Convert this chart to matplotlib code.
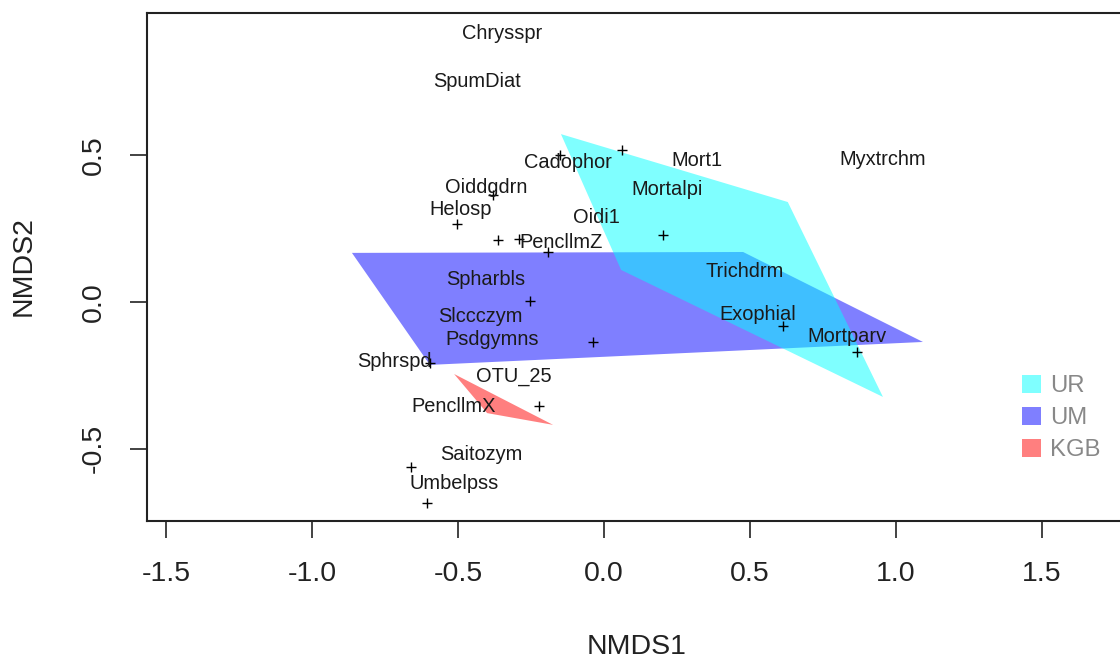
import matplotlib
matplotlib.use("Agg")
import matplotlib.pyplot as plt
from matplotlib.patches import Polygon, Patch

plt.rcParams['font.family'] = ['Liberation Sans', 'DejaVu Sans']

# Hull vertices (NMDS1, NMDS2) per group
groups = ["UR", "UM", "KGB"]
group_colors = {"UR": "#00FFFF", "UM": "#0000FF", "KGB": "#FF0000"}
hull_x = {
    "UR": [-0.147, 0.630, 0.956, 0.059],
    "UM": [-0.863, 0.477, 1.093, -0.596],
    "KGB": [-0.513, -0.400, -0.174],
}
hull_y = {
    "UR": [0.570, 0.339, -0.324, 0.108],
    "UM": [0.166, 0.169, -0.137, -0.215],
    "KGB": [-0.246, -0.379, -0.419],
}

# Species labels
species = ["Chrysspr", "SpumDiat", "Cadophor", "Mort1", "Myxtrchm", "Oiddgdrn",
           "Mortalpi", "Helosp", "Oidi1", "PencllmZ", "Trichdrm", "Spharbls",
           "Exophial", "Slccczym", "Mortparv", "Psdgymns", "Sphrspd", "OTU_25",
           "PencllmX", "Saitozym", "Umbelpss"]
species_x = [-0.349, -0.435, -0.123, 0.319, 0.956, -0.404, 0.216, -0.490, -0.024,
             -0.147, 0.483, -0.404, 0.528, -0.424, 0.832, -0.383, -0.716, -0.308,
             -0.514, -0.421, -0.514]
species_y = [0.911, 0.750, 0.472, 0.479, 0.485, 0.390, 0.380, 0.312, 0.285,
             0.200, 0.101, 0.077, -0.045, -0.052, -0.120, -0.130, -0.202, -0.253,
             -0.358, -0.521, -0.620]

# Unlabelled points (+)
pts_x = [-0.150, 0.062, -0.380, -0.503, -0.363, -0.291, -0.191, 0.202, -0.253,
         -0.037, -0.596, -0.222, -0.660, -0.605, 0.613, 0.867]
pts_y = [0.499, 0.516, 0.363, 0.264, 0.210, 0.213, 0.169, 0.227, 0.002,
         -0.137, -0.208, -0.355, -0.562, -0.685, -0.083, -0.171]

xticks = [-1.5, -1.0, -0.5, 0.0, 0.5, 1.0, 1.5]
yticks = [-0.5, 0.0, 0.5]

W, H = 1120, 660
fig = plt.figure(figsize=(W / 100, H / 100), dpi=100)
left, right, top, bottom = 147.3, 1127, 12.7, 520.7
ax = fig.add_axes([left / W, 1 - bottom / H, (right - left) / W, (bottom - top) / H])
ax.set_xlim(-1.564, 1.792)
ax.set_ylim(-0.745, 0.983)

for g in ["UM", "UR", "KGB"]:
    poly = Polygon(list(zip(hull_x[g], hull_y[g])), closed=True,
                   facecolor=group_colors[g], alpha=0.5, edgecolor='none', zorder=1)
    ax.add_patch(poly)

ax.plot(pts_x, pts_y, linestyle='none', marker='+', markersize=7,
        markeredgewidth=1.0, color='black', zorder=3)

for s, x, y in zip(species, species_x, species_y):
    ax.text(x, y, s, ha='center', va='center', fontsize=14.4, color='#1a1a1a', zorder=4)

ax.set_xticks(xticks)
ax.set_xticklabels([f"{t:.1f}" for t in xticks])
ax.set_yticks(yticks)
ax.set_yticklabels([f"{t:.1f}" for t in yticks], rotation=90, va='center')
ax.tick_params(direction='out', length=12.2, width=1.2, labelsize=20.5, pad=17,
               colors='#222222')
for sp in ['left', 'top', 'bottom']:
    ax.spines[sp].set_linewidth(1.5)
    ax.spines[sp].set_color('#222222')
ax.spines['right'].set_visible(False)

fig.text(637 / W, 1 - 647 / H, "NMDS1", ha='center', va='center', fontsize=20.5, color='#222222')
fig.text(24 / W, 1 - 266 / H, "NMDS2", ha='center', va='center', rotation=90, fontsize=20.5, color='#222222')

handles = [Patch(facecolor=group_colors[g], alpha=0.5, edgecolor='none') for g in groups]
leg = ax.legend(handles, groups, loc='upper left',
                bbox_to_anchor=(1022 / W, 1 - 375 / H), bbox_transform=fig.transFigure,
                frameon=False, fontsize=17.2, labelcolor='#888888',
                handlelength=0.78, handleheight=0.78, handletextpad=0.4,
                labelspacing=0.4, borderpad=0, borderaxespad=0)

fig.savefig("out.png", dpi=100)
